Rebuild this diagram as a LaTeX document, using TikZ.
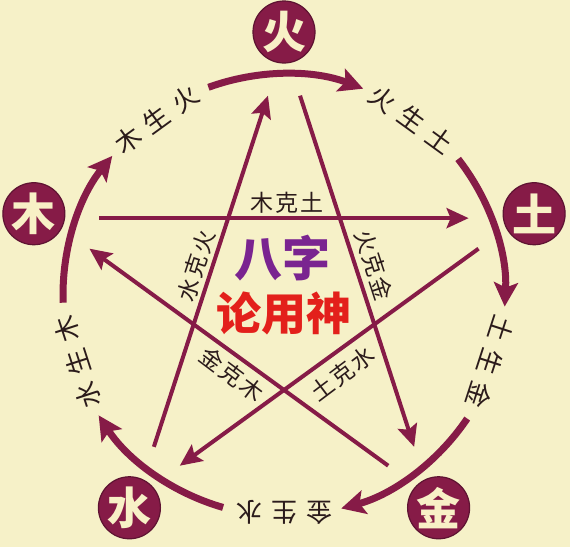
\documentclass[tikz,border=0pt]{standalone}
\usepackage{fontspec}
\setmainfont{Noto Sans CJK SC}
\usetikzlibrary{arrows.meta, positioning}
\definecolor{maroon}{HTML}{861B47}
\definecolor{paper}{HTML}{F6F1C8}
\definecolor{ink}{HTML}{2B1B1B}
\definecolor{cream}{HTML}{F8F0C6}
\definecolor{bapurple}{HTML}{7A2490}
\definecolor{shenred}{HTML}{E3201B}
\newcommand{\spreadthree}[4]{#2\hspace{#1}#3\hspace{#1}#4}
\tikzset{
    element/.style={circle, fill=maroon, draw=maroon!70!black, line width=1.2pt,
        minimum size=62pt, inner sep=0pt, text=cream,
        font=\fontsize{44}{44}\selectfont\bfseries},
    ringlabel/.style={text=ink, inner sep=1pt, font=\fontsize{26}{26}\selectfont},
    starlabel/.style={text=ink, inner sep=1pt, font=\fontsize{23}{23}\selectfont},
    ringarc/.style={draw=maroon, line width=7pt,
        -{Stealth[length=24pt, width=24pt, inset=5pt]}},
    starline/.style={draw=maroon, line width=4pt,
        -{Stealth[length=22pt, width=20pt, inset=4pt]}}
}
\begin{document}
\begin{tikzpicture}[x=1pt, y=1pt]
    \def \R {221}
    \def \E {263}
    \def \S {200}
    \fill[paper] (-284,-252) rectangle (286,295);
    \useasboundingbox (-284,-252) rectangle (286,295);
    % ring of generation
    \foreach \a in {162, 90, 18, -54, -126}{
    \draw[ringarc] (\a+20:\R) arc (\a+20:\a-21:\R);}
    % star of control
    \foreach \k in {0,...,4}{
    \coordinate (from\k) at ({157.4-72*\k}:\S);
    \coordinate (to\k) at ({22.6-72*\k}:\S);
    \draw[starline] (from\k) -- (to\k);}
    % elements
    \node[element] (huo) at (90:\E) {火};
    \node[element] (tu) at (18:\E) {土};
    \node[element] (jin) at (-54:\E) {金};
    \node[element] (shui) at (-126:\E) {水};
    \node[element] (mu) at (162:\E) {木};
    % sheng labels
    \node[ringlabel, rotate=36] (musheng) at (126:217) {\spreadthree{9pt}{木}{生}{火}};
    \node[ringlabel, rotate=-36] (huosheng) at (54:217) {\spreadthree{9pt}{火}{生}{土}};
    \node[ringlabel, rotate=-108] (tusheng) at (-18:217) {\spreadthree{9pt}{土}{生}{金}};
    \node[ringlabel, rotate=180] (jinsheng) at (-90:217) {\spreadthree{9pt}{金}{生}{水}};
    \node[ringlabel, rotate=108] (shuisheng) at (198:217) {\spreadthree{9pt}{水}{生}{木}};
    % ke labels
    \node[starlabel] (muke) at (3,92) {\spreadthree{2pt}{木}{克}{土}};
    \node[starlabel, rotate=-72] (huoke) at (90,30) {\spreadthree{2pt}{火}{克}{金}};
    \node[starlabel, rotate=37] (tuke) at (58,-79) {\spreadthree{2pt}{土}{克}{水}};
    \node[starlabel, rotate=-37] (jinke) at (-52,-79) {\spreadthree{2pt}{金}{克}{木}};
    \node[starlabel, rotate=72] (shuike) at (-88,29) {\spreadthree{2pt}{水}{克}{火}};
    % title
    \node[text=bapurple, font=\fontsize{48}{48}\selectfont\bfseries] (bazi) at (-1,37) {八字};
    \node[text=shenred, font=\fontsize{45}{45}\selectfont\bfseries] (lun) at (0,-18) {论用神};
\end{tikzpicture}
\end{document}
